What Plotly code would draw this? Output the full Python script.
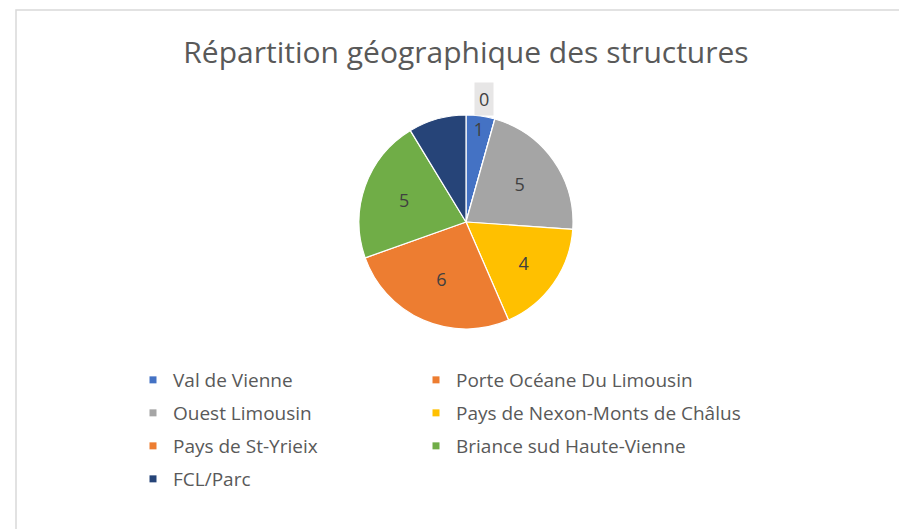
import plotly.graph_objects as go

# Data
categories = ["Val de Vienne", "Porte Océane Du Limousin", "Ouest Limousin",
              "Pays de Nexon-Monts de Châlus", "Pays de St-Yrieix",
              "Briance sud Haute-Vienne", "FCL/Parc"]
values = [1, 0, 5, 4, 6, 5, 2]
shown_labels = [True, False, True, True, True, True, False]
title_text = "Répartition géographique des structures"

colors = ["#4472C4", "#ED7D31", "#A5A5A5", "#FFC000", "#ED7D31", "#70AD47", "#264478"]
slice_text = [str(v) if s else "" for v, s in zip(values, shown_labels)]

W, H = 899, 529
cx, cy, r = 466, 222, 107
TEXT = "#595959"

fig = go.Figure()
fig.add_trace(go.Pie(
    labels=categories,
    values=values,
    text=slice_text,
    textinfo="text",
    textposition="inside",
    insidetextorientation="horizontal",
    textfont=dict(family="Open Sans", size=18, color="#404040"),
    marker=dict(colors=colors, line=dict(color="#FFFFFF", width=1.2)),
    sort=False,
    direction="clockwise",
    rotation=0,
    showlegend=False,
    domain=dict(x=[(cx - r) / W, (cx + r) / W], y=[1 - (cy + r) / H, 1 - (cy - r) / H]),
    hoverinfo="label+value",
))

# Legend: two columns, one legend box per entry
col_x = [133, 416]
row_y = [380, 413, 446, 479]
legend_layout = {}
for i, (cat, col) in enumerate(zip(categories, colors)):
    key = "legend" if i == 0 else f"legend{i + 1}"
    fig.add_trace(go.Scatter(
        x=[None], y=[None], mode="markers", name=cat, legend=key,
        marker=dict(symbol="square", size=7, color=col), hoverinfo="skip",
    ))
    legend_layout[key] = dict(
        x=col_x[i % 2] / W, y=1 - row_y[i // 2] / H, xref="container", yref="container",
        xanchor="left", yanchor="middle", bgcolor="rgba(0,0,0,0)",
        font=dict(family="Open Sans", size=19, color=TEXT),
    )

# zero-value label above the pie (the slice has no area)
zero_idx = values.index(0)
fig.add_annotation(
    text=str(values[zero_idx]), x=(cx + 18) / W, y=1 - 99 / H, xref="paper", yref="paper",
    xanchor="center", yanchor="middle",
    showarrow=False, font=dict(family="Open Sans", size=18, color="#404040"),
    bgcolor="#E7E6E6", borderpad=4,
)

fig.update_layout(
    width=W, height=H,
    margin=dict(l=0, r=0, t=0, b=0, autoexpand=False),
    paper_bgcolor="white",
    plot_bgcolor="white",
    xaxis=dict(visible=False),
    yaxis=dict(visible=False),
    title=dict(text=title_text, x=cx / W, xanchor="center", y=1 - 52 / H, yanchor="middle",
               font=dict(family="Open Sans", size=30, color=TEXT)),
    shapes=[dict(type="rect", xref="paper", yref="paper",
                 x0=16 / W, x1=1.02, y0=-0.02, y1=1 - 10 / H,
                 line=dict(color="#D9D9D9", width=1.5))],
    **legend_layout,
)

fig.write_html("out.html")
